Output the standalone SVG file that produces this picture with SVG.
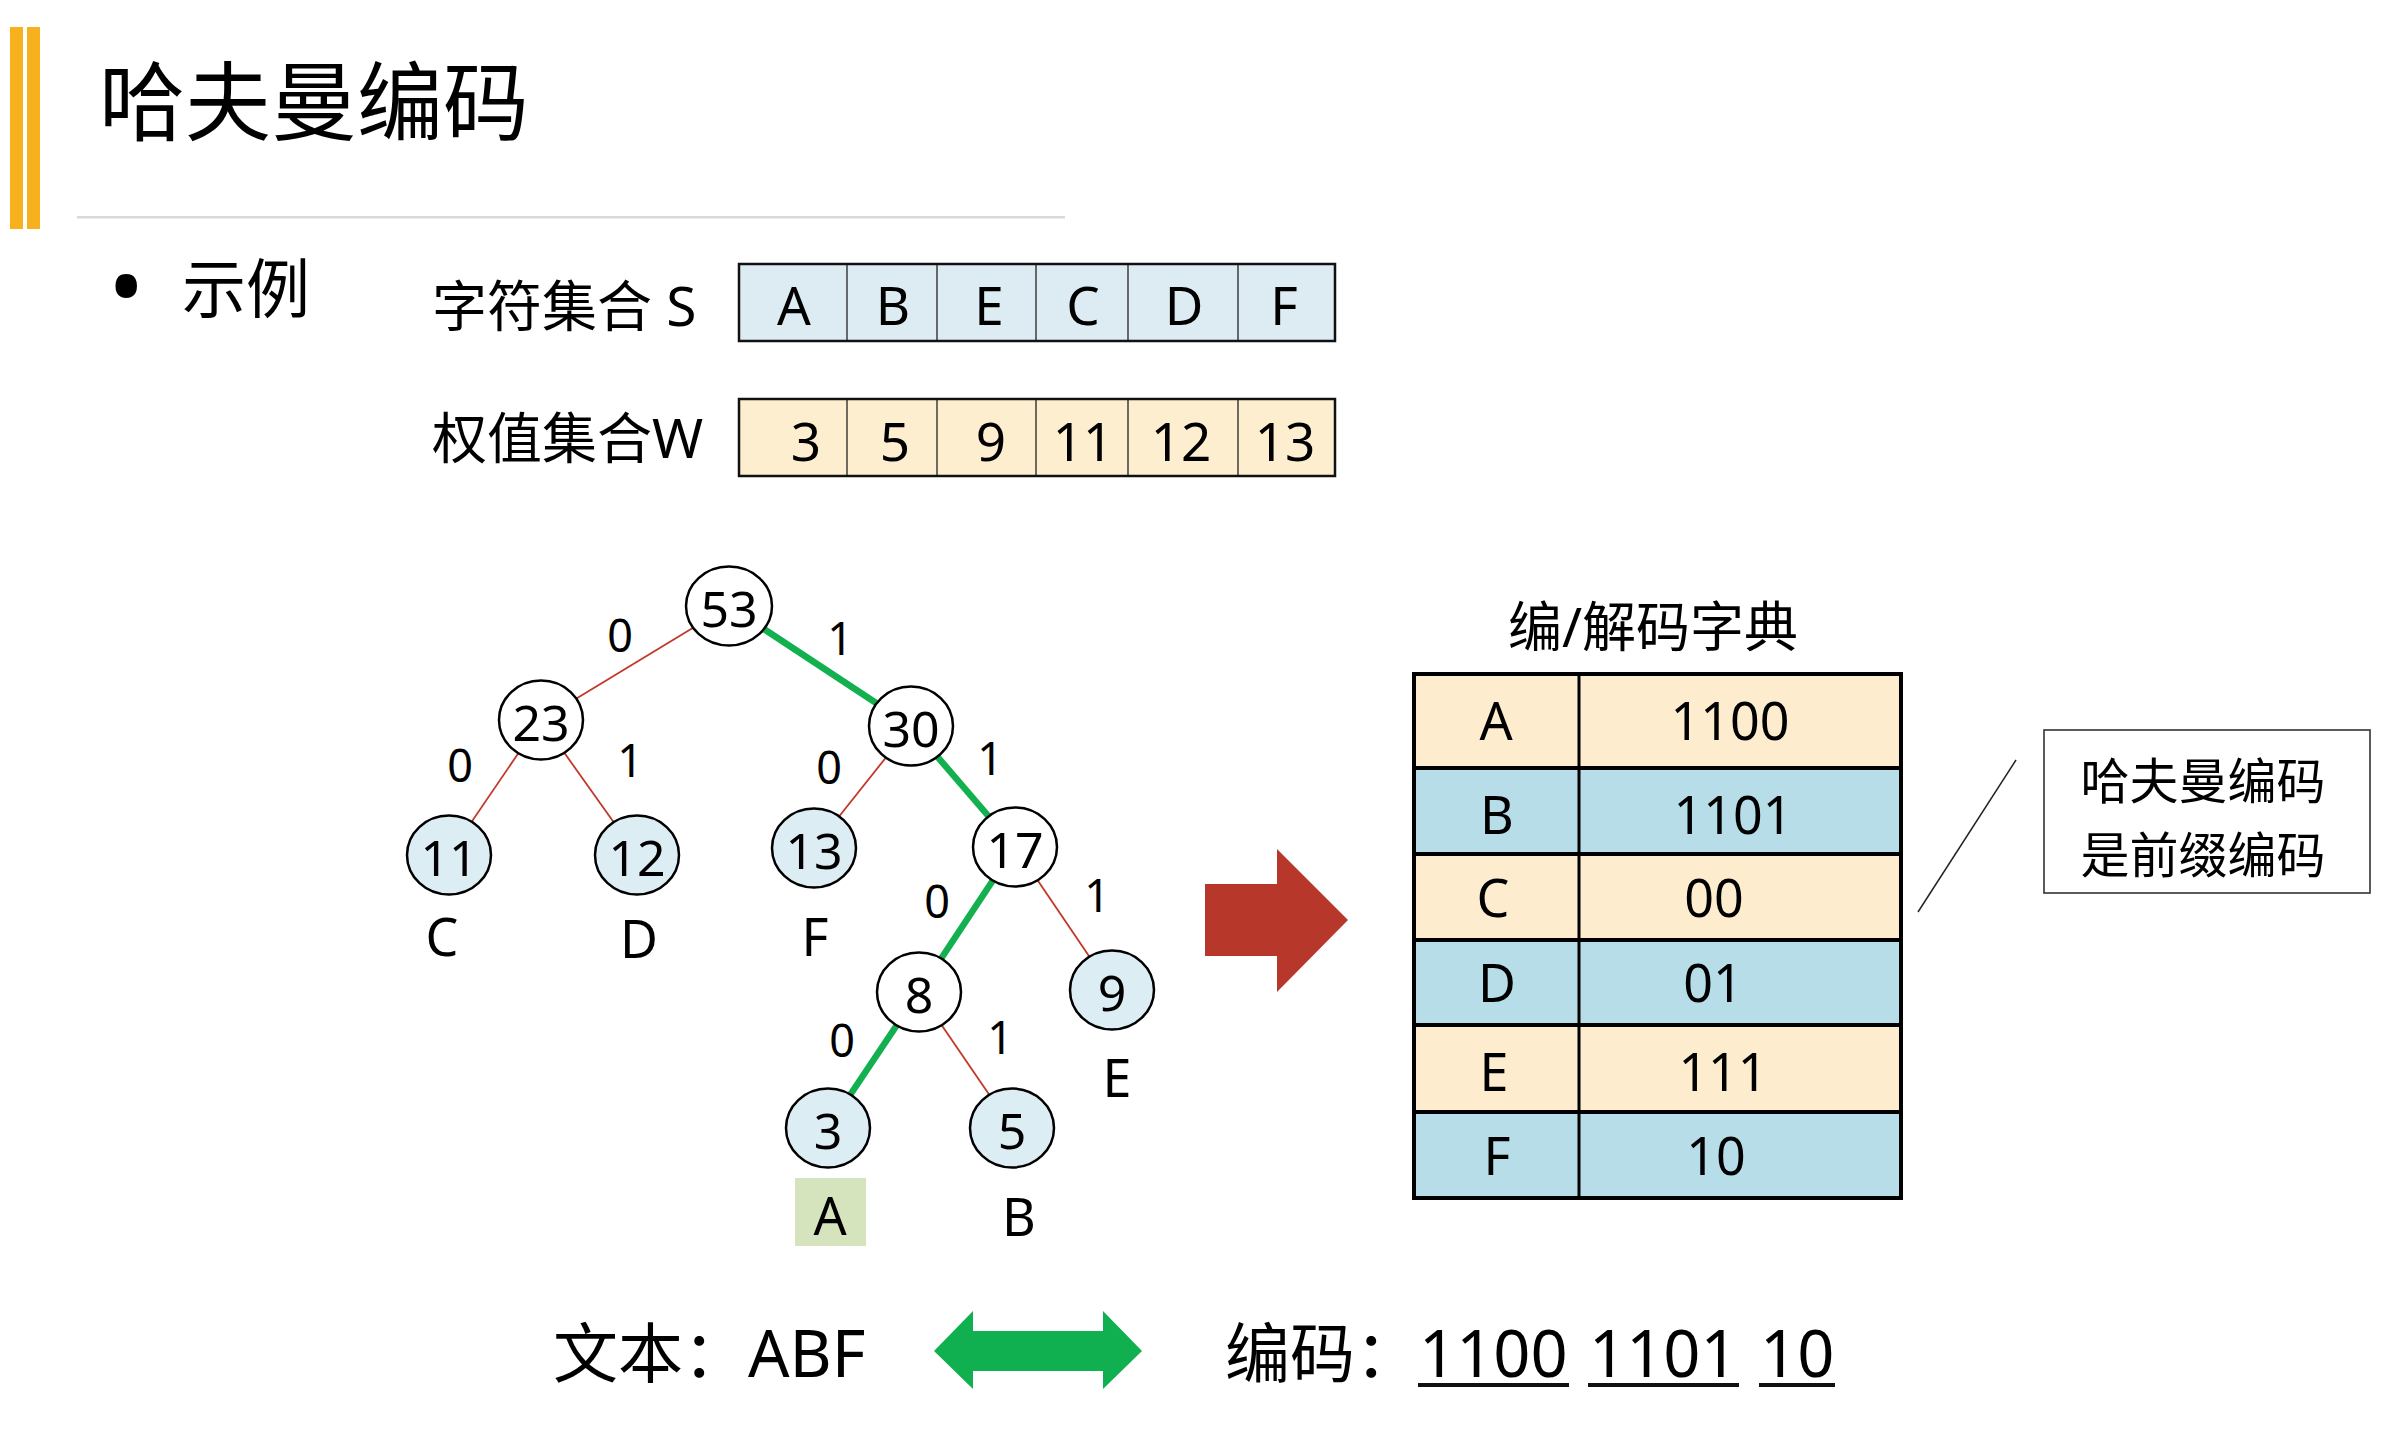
<svg xmlns="http://www.w3.org/2000/svg" width="2388" height="1434" viewBox="0 0 2388 1434">
<style>
text { font-family: "Noto Sans", "Noto Sans CJK SC", sans-serif; fill: #000; }
.mid { text-anchor: middle; }
.num { font-size: 50px; }
.lab { font-size: 52px; }
.edge { font-size: 45px; }
.leaf { fill: #ddedf4; stroke: #000; stroke-width: 2.5; }
.inner { fill: #fff; stroke: #000; stroke-width: 2.5; }
.red { stroke: #c0392b; stroke-width: 1.8; fill: none; }
.grn { stroke: #12b04f; stroke-width: 6.5; fill: none; }
.cell { font-size: 53px; }
.dict { font-size: 52px; }
.div { stroke: #222; stroke-width: 1.3; }
</style>

<g id="header">
  <rect x="10" y="27" width="13" height="202" fill="#f7b01e"/>
  <rect x="27" y="27" width="13" height="202" fill="#f7b01e"/>
  <text x="99" y="134" font-size="86">哈夫曼编码</text>
  <rect x="77" y="216" width="988" height="2.5" fill="#d9d9d9"/>
</g>

<g id="bullet">
  <text x="108" y="321" font-size="97" font-family="Liberation Sans, sans-serif">•</text>
  <text x="182" y="312" font-size="64">示例</text>
</g>

<g id="setS">
  <text x="432" y="326" font-size="55">字符集合 S</text>
  <rect x="739" y="264" width="596" height="77" fill="#ddecf3"/>
  <line class="div" x1="847" y1="264" x2="847" y2="341"/>
  <line class="div" x1="937" y1="264" x2="937" y2="341"/>
  <line class="div" x1="1036" y1="264" x2="1036" y2="341"/>
  <line class="div" x1="1128" y1="264" x2="1128" y2="341"/>
  <line class="div" x1="1238" y1="264" x2="1238" y2="341"/>
  <rect x="739" y="264" width="596" height="77" fill="none" stroke="#111" stroke-width="2.5"/>
  <text class="cell mid" x="794" y="325">A</text>
  <text class="cell mid" x="893" y="325">B</text>
  <text class="cell mid" x="989" y="325">E</text>
  <text class="cell mid" x="1083" y="325">C</text>
  <text class="cell mid" x="1184" y="325">D</text>
  <text class="cell mid" x="1284" y="325">F</text>
</g>

<g id="setW">
  <text x="432" y="458" font-size="55">权值集合W</text>
  <rect x="739" y="399" width="596" height="77" fill="#fdeecf"/>
  <line class="div" x1="847" y1="399" x2="847" y2="476"/>
  <line class="div" x1="937" y1="399" x2="937" y2="476"/>
  <line class="div" x1="1036" y1="399" x2="1036" y2="476"/>
  <line class="div" x1="1128" y1="399" x2="1128" y2="476"/>
  <line class="div" x1="1238" y1="399" x2="1238" y2="476"/>
  <rect x="739" y="399" width="596" height="77" fill="none" stroke="#111" stroke-width="2.5"/>
  <text class="cell mid" x="806" y="461" font-size="56">3</text>
  <text class="cell mid" x="895" y="461" font-size="56">5</text>
  <text class="cell mid" x="991" y="461" font-size="56">9</text>
  <text class="cell mid" x="1083" y="461" font-size="56">11</text>
  <text class="cell mid" x="1181" y="461" font-size="56">12</text>
  <text class="cell mid" x="1285" y="461" font-size="56">13</text>
</g>

<g id="connectors">
  <line class="red" x1="729" y1="606" x2="541" y2="720"/>
  <line class="grn" x1="729" y1="606" x2="911" y2="726"/>
  <line class="red" x1="541" y1="720" x2="449" y2="855"/>
  <line class="red" x1="541" y1="720" x2="637" y2="855"/>
  <line class="red" x1="911" y1="726" x2="814" y2="848"/>
  <line class="grn" x1="911" y1="726" x2="1015" y2="847"/>
  <line class="grn" x1="1015" y1="847" x2="919" y2="992"/>
  <line class="red" x1="1015" y1="847" x2="1112" y2="990"/>
  <line class="grn" x1="919" y1="992" x2="828" y2="1128"/>
  <line class="red" x1="919" y1="992" x2="1012" y2="1128"/>
  <text class="edge mid" x="620" y="652">0</text>
  <text class="edge mid" x="840" y="655">1</text>
  <text class="edge mid" x="460" y="782">0</text>
  <text class="edge mid" x="630" y="777">1</text>
  <text class="edge mid" x="829" y="784">0</text>
  <text class="edge mid" x="990" y="775">1</text>
  <text class="edge mid" x="937" y="918">0</text>
  <text class="edge mid" x="1097" y="912">1</text>
  <text class="edge mid" x="842" y="1057">0</text>
  <text class="edge mid" x="1000" y="1054">1</text>
</g>

<g id="n53"><ellipse class="inner" cx="729" cy="606" rx="43" ry="39.5"/><text class="num mid" x="729" y="627">53</text></g>
<g id="n23"><ellipse class="inner" cx="541" cy="720" rx="42" ry="39.5"/><text class="num mid" x="541" y="741">23</text></g>
<g id="n30"><ellipse class="inner" cx="911" cy="726" rx="42" ry="39.5"/><text class="num mid" x="911" y="747">30</text></g>
<g id="n11"><ellipse class="leaf" cx="449" cy="855" rx="42" ry="39.5"/><text class="num mid" x="449" y="876">11</text><text class="lab mid" x="442" y="956">C</text></g>
<g id="n12"><ellipse class="leaf" cx="637" cy="855" rx="42" ry="39.5"/><text class="num mid" x="637" y="876">12</text><text class="lab mid" x="639" y="958">D</text></g>
<g id="n13"><ellipse class="leaf" cx="814" cy="848" rx="42" ry="39.5"/><text class="num mid" x="814" y="869">13</text><text class="lab mid" x="815" y="956">F</text></g>
<g id="n17"><ellipse class="inner" cx="1015" cy="847" rx="42" ry="39.5"/><text class="num mid" x="1015" y="868">17</text></g>
<g id="n8"><ellipse class="inner" cx="919" cy="992" rx="42" ry="39.5"/><text class="num mid" x="919" y="1013">8</text></g>
<g id="n9"><ellipse class="leaf" cx="1112" cy="990" rx="42" ry="39.5"/><text class="num mid" x="1112" y="1011">9</text><text class="lab mid" x="1117" y="1097">E</text></g>
<g id="n3"><ellipse class="leaf" cx="828" cy="1128" rx="42" ry="39.5"/><text class="num mid" x="828" y="1149">3</text><rect x="795" y="1178" width="71" height="68" fill="#d6e4bd"/><text class="lab mid" x="830" y="1235">A</text></g>
<g id="n5"><ellipse class="leaf" cx="1012" cy="1128" rx="42" ry="39.5"/><text class="num mid" x="1012" y="1149">5</text><text class="lab mid" x="1019" y="1236">B</text></g>

<g id="redArrow">
  <polygon points="1205,884 1277,884 1277,849 1348,920 1277,992 1277,956 1205,956" fill="#b7382a"/>
</g>

<g id="dictionary">
  <text class="mid" x="1653" y="647" font-size="54">编/解码字典</text>
  <rect x="1414" y="674" width="487" height="94" fill="#fdecce"/>
  <rect x="1414" y="768" width="487" height="86" fill="#b7dde8"/>
  <rect x="1414" y="854" width="487" height="86" fill="#fdecce"/>
  <rect x="1414" y="940" width="487" height="85" fill="#b7dde8"/>
  <rect x="1414" y="1025" width="487" height="87" fill="#fdecce"/>
  <rect x="1414" y="1112" width="487" height="86" fill="#b7dde8"/>
  <g stroke="#000" stroke-width="4">
    <line x1="1414" y1="768" x2="1901" y2="768"/>
    <line x1="1414" y1="854" x2="1901" y2="854"/>
    <line x1="1414" y1="940" x2="1901" y2="940"/>
    <line x1="1414" y1="1025" x2="1901" y2="1025"/>
    <line x1="1414" y1="1112" x2="1901" y2="1112"/>
    <line x1="1579" y1="674" x2="1579" y2="1198" stroke-width="3"/>
    <rect x="1414" y="674" width="487" height="524" fill="none"/>
  </g>
  <text class="dict mid" x="1496" y="740">A</text>
  <text class="dict mid" x="1497" y="834">B</text>
  <text class="dict mid" x="1493" y="917">C</text>
  <text class="dict mid" x="1497" y="1002">D</text>
  <text class="dict mid" x="1494" y="1091">E</text>
  <text class="dict mid" x="1497" y="1175">F</text>
  <text class="dict mid" x="1730" y="740">1100</text>
  <text class="dict mid" x="1733" y="834">1101</text>
  <text class="dict mid" x="1714" y="917">00</text>
  <text class="dict mid" x="1713" y="1002">01</text>
  <text class="dict mid" x="1723" y="1091">111</text>
  <text class="dict mid" x="1716" y="1175">10</text>
</g>

<g id="callout">
  <line x1="2016" y1="760" x2="1918" y2="912" stroke="#222" stroke-width="1.5"/>
  <rect x="2044" y="730" width="326" height="163" fill="#fff" stroke="#333" stroke-width="1.6"/>
  <text class="mid" x="2203" y="799" font-size="49">哈夫曼编码</text>
  <text class="mid" x="2203" y="873" font-size="49">是前缀编码</text>
</g>

<g id="bottom">
  <text x="553" y="1377" font-size="65">文本：ABF</text>
  <polygon points="934,1351 973,1311 973,1331 1103,1331 1103,1311 1142,1351 1103,1389 1103,1371 973,1371 973,1389" fill="#10b050"/>
  <text x="1225" y="1377" font-size="65">编码：</text>
  <text x="1419" y="1377" font-size="65">1100</text>
  <text x="1589" y="1377" font-size="65">1101</text>
  <text x="1760" y="1377" font-size="65">10</text>
  <g fill="#111">
    <rect x="1418" y="1383" width="151" height="4"/>
    <rect x="1588" y="1383" width="151" height="4"/>
    <rect x="1759" y="1383" width="76" height="4"/>
  </g>
</g>
</svg>
